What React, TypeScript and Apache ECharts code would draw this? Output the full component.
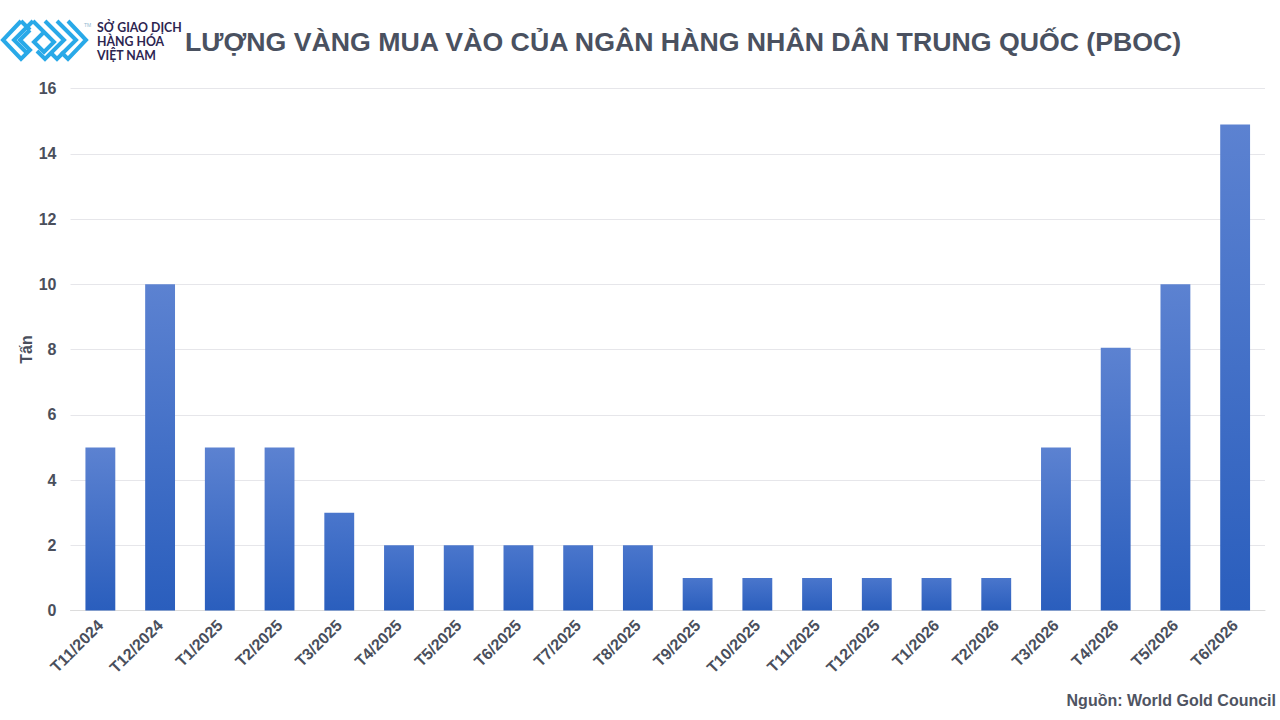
import React, { useEffect, useRef } from 'react'
import * as echarts from 'echarts'

const categories = [
  'T11/2024', 'T12/2024', 'T1/2025', 'T2/2025', 'T3/2025', 'T4/2025', 'T5/2025',
  'T6/2025', 'T7/2025', 'T8/2025', 'T9/2025', 'T10/2025', 'T11/2025', 'T12/2025',
  'T1/2026', 'T2/2026', 'T3/2026', 'T4/2026', 'T5/2026', 'T6/2026',
]
const purchases = [5, 10, 5, 5, 3, 2, 2, 2, 2, 2, 1, 1, 1, 1, 1, 1, 5, 8.05, 10, 14.9]

const logoLines = [
  [[21, 21], [3, 40], [21, 59], [30, 50], [20, 40], [30, 30]],
  [[21, 21], [30, 30]],
  [[33, 21], [14, 40], [26, 52]],
  [[33, 21], [54, 42], [44, 52], [34, 42], [44, 32], [50, 38]],
  [[45, 21], [64, 40], [45, 59], [37, 51]],
  [[57, 21], [76, 40], [57, 59], [51, 53]],
  [[68, 21], [86, 40], [68, 59], [61, 52]],
]

// short bars start from a deeper blue at the top
const barColor = (value: number) =>
  new echarts.graphic.LinearGradient(0, 0, 0, 1, [
    { offset: 0, color: value < 5 ? '#4a76cc' : '#5c82d1' },
    { offset: 1, color: '#2a5ebd' },
  ])

const logoFont = '700 12.3px Lato, "Noto Sans", sans-serif'

const App: React.FC = () => {
  const chartRef = useRef<HTMLDivElement>(null)

  useEffect(() => {
    if (!chartRef.current) return
    document.body.style.margin = '0'
    const chart = echarts.init(chartRef.current, undefined, { renderer: 'svg' })

    chart.setOption({
      animation: false,
      backgroundColor: '#ffffff',
      textStyle: { fontFamily: '"Liberation Sans", Arial, sans-serif' },
      grid: { left: 70.5, right: 15, top: 88.5, bottom: 109.5 },
      xAxis: {
        type: 'category',
        data: categories,
        axisTick: { show: false },
        axisLine: { lineStyle: { color: '#dcdcdc', width: 1 } },
        axisLabel: {
          color: '#4a4f5c',
          fontSize: 16,
          fontWeight: 'bold',
          rotate: 45,
          interval: 0,
          margin: 12,
        },
      },
      yAxis: {
        type: 'value',
        min: 0,
        max: 16,
        interval: 2,
        name: 'Tấn',
        nameLocation: 'middle',
        nameGap: 36,
        nameMoveOverlap: false,
        nameTextStyle: { color: '#4a4f5c', fontSize: 16, fontWeight: 'bold' },
        axisLine: { show: false },
        axisTick: { show: false },
        axisLabel: { color: '#4a4f5c', fontSize: 16, fontWeight: 'bold', margin: 14 },
        splitLine: { lineStyle: { color: '#e6e6ea', width: 1 } },
      },
      series: [
        {
          type: 'bar',
          data: purchases.map(value => ({ value, itemStyle: { color: barColor(value) } })),
          barWidth: '50%',
        },
      ],
      graphic: [
        ...logoLines.map(points => ({
          type: 'polyline',
          shape: { points },
          style: { stroke: '#29a9e8', lineWidth: 4, fill: 'none', lineJoin: 'miter' },
          silent: true,
        })),
        {
          type: 'text',
          x: 84,
          y: 22,
          style: { text: 'TM', font: '5px "Liberation Sans", Arial, sans-serif', fill: '#8fb8d0' },
        },
        {
          type: 'text',
          x: 97,
          y: 21,
          style: { text: 'SỞ GIAO DỊCH', font: logoFont, fill: '#2c2550' },
        },
        {
          type: 'text',
          x: 97,
          y: 35,
          style: { text: 'HÀNG HÓA', font: logoFont, fill: '#2c2550' },
        },
        {
          type: 'text',
          x: 97,
          y: 49,
          style: { text: 'VIỆT NAM', font: logoFont, fill: '#2c2550' },
        },
        {
          type: 'text',
          x: 185,
          y: 28,
          style: {
            text: 'LƯỢNG VÀNG MUA VÀO CỦA NGÂN HÀNG NHÂN DÂN TRUNG QUỐC (PBOC)',
            font: 'bold 26.7px "Liberation Sans", Arial, sans-serif',
            fill: '#4a5160',
          },
        },
        {
          type: 'text',
          right: 4,
          y: 692,
          style: {
            text: 'Nguồn: World Gold Council',
            font: 'bold 16px "Liberation Sans", Arial, sans-serif',
            fill: '#4f5462',
          },
        },
      ],
    })

    return () => {
      chart.dispose()
    }
  }, [])

  return <div ref={chartRef} style={{ width: 1280, height: 720 }} />
}

export default App
